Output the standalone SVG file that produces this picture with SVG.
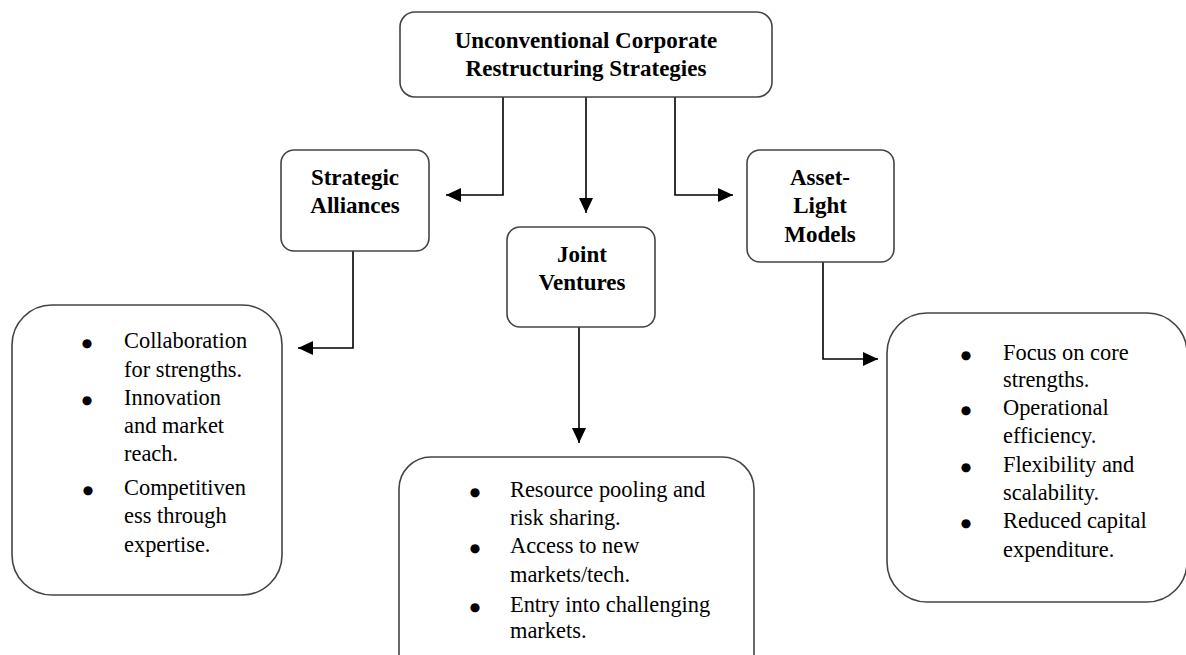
<svg xmlns="http://www.w3.org/2000/svg" width="1186" height="655" viewBox="0 0 1186 655">
<style>
.box{fill:#fff;stroke:#444;stroke-width:1.6}
.conn{fill:none;stroke:#000;stroke-width:1.6}
.h{font-family:"Liberation Serif","Times New Roman",serif;font-weight:bold;font-size:23px;fill:#000;text-anchor:middle}
.t{font-family:"Liberation Serif","Times New Roman",serif;font-size:22.4px;fill:#000}
.b{font-family:"DejaVu Sans",sans-serif;font-size:12px;fill:#000;text-anchor:middle}
</style>
<defs>
<marker id="arr" markerUnits="userSpaceOnUse" markerWidth="16" markerHeight="14" refX="15" refY="7" orient="auto">
<path d="M0,0 L15,7 L0,14 Z" fill="#000"/>
</marker>
</defs>
<rect width="1186" height="655" fill="#fff"/>
<g id="connectors">
<path class="conn" d="M558,95 H503 V195 H446" marker-end="url(#arr)"/>
<path class="conn" d="M586,95 V213" marker-end="url(#arr)"/>
<path class="conn" d="M618,95 H675 V195 H733" marker-end="url(#arr)"/>
<path class="conn" d="M412,249 H353 V348 H298" marker-end="url(#arr)"/>
<path class="conn" d="M579,327 V443" marker-end="url(#arr)"/>
<path class="conn" d="M765,260 H823 V359 H878" marker-end="url(#arr)"/>
</g>
<g id="root">
<rect class="box" x="400" y="12" width="372" height="85" rx="15"/>
<text class="h" x="586" y="48">Unconventional Corporate</text>
<text class="h" x="586" y="76">Restructuring Strategies</text>
</g>
<g id="strategic-alliances">
<rect class="box" x="281" y="150" width="148" height="101" rx="13"/>
<text class="h" x="355" y="185">Strategic</text>
<text class="h" x="355" y="213">Alliances</text>
</g>
<g id="joint-ventures">
<rect class="box" x="507" y="227" width="148" height="100" rx="13"/>
<text class="h" x="582" y="262">Joint</text>
<text class="h" x="582" y="290">Ventures</text>
</g>
<g id="asset-light">
<rect class="box" x="747" y="150" width="147" height="112" rx="13"/>
<text class="h" x="820" y="185">Asset-</text>
<text class="h" x="820" y="213">Light</text>
<text class="h" x="820" y="242">Models</text>
</g>
<g id="alliances-details">
<rect class="box" x="12" y="305" width="270" height="290" rx="40"/>
<text class="b" x="87" y="347">●</text>
<text class="t" x="124" y="348">Collaboration</text>
<text class="t" x="124" y="377">for strengths.</text>
<text class="b" x="87" y="404">●</text>
<text class="t" x="124" y="405">Innovation</text>
<text class="t" x="124" y="433">and market</text>
<text class="t" x="124" y="461">reach.</text>
<text class="b" x="88" y="494">●</text>
<text class="t" x="124" y="495">Competitiven</text>
<text class="t" x="124" y="523">ess through</text>
<text class="t" x="124" y="552">expertise.</text>
</g>
<g id="ventures-details">
<rect class="box" x="399" y="457" width="355" height="230" rx="32"/>
<text class="b" x="475" y="496">●</text>
<text class="t" x="510" y="497">Resource pooling  and</text>
<text class="t" x="510" y="525">risk sharing.</text>
<text class="b" x="475" y="552">●</text>
<text class="t" x="510" y="553">Access to new</text>
<text class="t" x="510" y="582">markets/tech.</text>
<text class="b" x="475" y="611">●</text>
<text class="t" x="510" y="612">Entry into challenging</text>
<text class="t" x="510" y="638">markets.</text>
</g>
<g id="asset-details">
<rect class="box" x="887" y="313" width="300" height="289" rx="40"/>
<text class="b" x="966" y="359">●</text>
<text class="t" x="1003" y="360">Focus on core</text>
<text class="t" x="1003" y="387">strengths.</text>
<text class="b" x="966" y="414">●</text>
<text class="t" x="1003" y="415">Operational</text>
<text class="t" x="1003" y="443">efficiency.</text>
<text class="b" x="966" y="471">●</text>
<text class="t" x="1003" y="472">Flexibility and</text>
<text class="t" x="1003" y="500">scalability.</text>
<text class="b" x="966" y="527">●</text>
<text class="t" x="1003" y="528">Reduced capital</text>
<text class="t" x="1003" y="557">expenditure.</text>
</g>
</svg>
